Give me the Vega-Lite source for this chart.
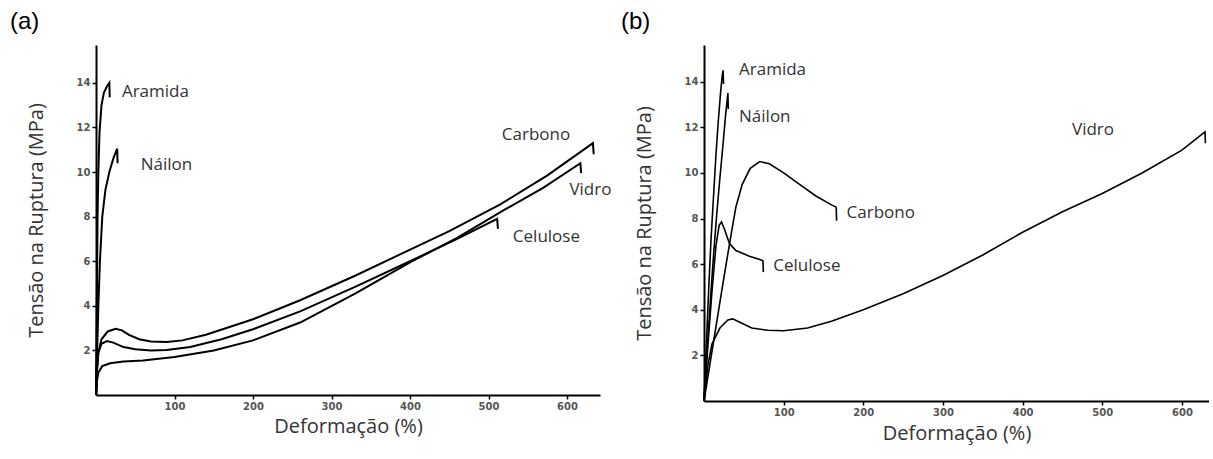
{
 "$schema": "https://vega.github.io/schema/vega-lite/v6.json",
 "padding": {"left": 10, "top": 10, "right": 0, "bottom": 8},
 "background": "white",
 "spacing": 9,
 "config": {
  "view": {"stroke": null},
  "axis": {"grid": false, "domainColor": "black", "domainWidth": 2, "tickColor": "black", "tickWidth": 1.5, "tickSize": 4,
   "labelFont": "DejaVu Sans", "labelFontWeight": "bold", "labelFontSize": 10, "labelColor": "#555",
   "titleFont": "Open Sans", "titleFontSize": 20, "titleFontWeight": "normal", "titleColor": "#333"},
  "title": {"font": "Liberation Sans", "fontSize": 24, "fontWeight": "normal", "color": "black", "anchor": "start", "frame": "group"},
  "text": {"font": "Open Sans", "fontSize": 17, "color": "#333", "align": "left", "baseline": "middle"}
 },
 "datasets": {
  "a": [
   {"curve": "Aramida", "x": 0, "y": 0}, {"curve": "Aramida", "x": 0.5, "y": 2}, {"curve": "Aramida", "x": 1, "y": 4}, {"curve": "Aramida", "x": 1.5, "y": 6}, {"curve": "Aramida", "x": 2, "y": 8}, {"curve": "Aramida", "x": 3, "y": 10}, {"curve": "Aramida", "x": 4.5, "y": 11.8}, {"curve": "Aramida", "x": 7, "y": 13}, {"curve": "Aramida", "x": 10, "y": 13.55}, {"curve": "Aramida", "x": 14, "y": 13.85}, {"curve": "Aramida", "x": 17, "y": 14.0}, {"curve": "Aramida", "x": 17.5, "y": 13.35},
   {"curve": "Náilon", "x": 0, "y": 0}, {"curve": "Náilon", "x": 1.5, "y": 2}, {"curve": "Náilon", "x": 3, "y": 4}, {"curve": "Náilon", "x": 5, "y": 6}, {"curve": "Náilon", "x": 8, "y": 8}, {"curve": "Náilon", "x": 12, "y": 9.2}, {"curve": "Náilon", "x": 17, "y": 10.0}, {"curve": "Náilon", "x": 22, "y": 10.6}, {"curve": "Náilon", "x": 27, "y": 11.05}, {"curve": "Náilon", "x": 27.5, "y": 10.4},
   {"curve": "Carbono", "x": 0, "y": 0}, {"curve": "Carbono", "x": 1, "y": 1}, {"curve": "Carbono", "x": 3, "y": 1.9}, {"curve": "Carbono", "x": 7, "y": 2.5}, {"curve": "Carbono", "x": 15, "y": 2.85}, {"curve": "Carbono", "x": 25, "y": 2.97}, {"curve": "Carbono", "x": 33, "y": 2.9}, {"curve": "Carbono", "x": 42, "y": 2.7}, {"curve": "Carbono", "x": 55, "y": 2.5}, {"curve": "Carbono", "x": 70, "y": 2.4}, {"curve": "Carbono", "x": 90, "y": 2.38}, {"curve": "Carbono", "x": 110, "y": 2.45}, {"curve": "Carbono", "x": 140, "y": 2.7}, {"curve": "Carbono", "x": 200, "y": 3.4}, {"curve": "Carbono", "x": 260, "y": 4.25}, {"curve": "Carbono", "x": 330, "y": 5.35}, {"curve": "Carbono", "x": 390, "y": 6.35}, {"curve": "Carbono", "x": 450, "y": 7.35}, {"curve": "Carbono", "x": 515, "y": 8.55}, {"curve": "Carbono", "x": 575, "y": 9.85}, {"curve": "Carbono", "x": 633, "y": 11.3}, {"curve": "Carbono", "x": 634, "y": 10.8},
   {"curve": "Celulose", "x": 0, "y": 0}, {"curve": "Celulose", "x": 1, "y": 1}, {"curve": "Celulose", "x": 3, "y": 1.9}, {"curve": "Celulose", "x": 7, "y": 2.3}, {"curve": "Celulose", "x": 14, "y": 2.42}, {"curve": "Celulose", "x": 22, "y": 2.35}, {"curve": "Celulose", "x": 35, "y": 2.15}, {"curve": "Celulose", "x": 50, "y": 2.05}, {"curve": "Celulose", "x": 70, "y": 2.0}, {"curve": "Celulose", "x": 90, "y": 2.02}, {"curve": "Celulose", "x": 120, "y": 2.15}, {"curve": "Celulose", "x": 160, "y": 2.5}, {"curve": "Celulose", "x": 200, "y": 2.95}, {"curve": "Celulose", "x": 260, "y": 3.75}, {"curve": "Celulose", "x": 330, "y": 4.85}, {"curve": "Celulose", "x": 400, "y": 6.0}, {"curve": "Celulose", "x": 460, "y": 7.0}, {"curve": "Celulose", "x": 511, "y": 7.9}, {"curve": "Celulose", "x": 512, "y": 7.45},
   {"curve": "Vidro", "x": 0, "y": 0}, {"curve": "Vidro", "x": 1, "y": 0.6}, {"curve": "Vidro", "x": 3, "y": 1.0}, {"curve": "Vidro", "x": 8, "y": 1.3}, {"curve": "Vidro", "x": 18, "y": 1.42}, {"curve": "Vidro", "x": 35, "y": 1.5}, {"curve": "Vidro", "x": 60, "y": 1.55}, {"curve": "Vidro", "x": 100, "y": 1.7}, {"curve": "Vidro", "x": 150, "y": 2.0}, {"curve": "Vidro", "x": 200, "y": 2.45}, {"curve": "Vidro", "x": 260, "y": 3.25}, {"curve": "Vidro", "x": 330, "y": 4.55}, {"curve": "Vidro", "x": 400, "y": 5.95}, {"curve": "Vidro", "x": 460, "y": 7.05}, {"curve": "Vidro", "x": 520, "y": 8.3}, {"curve": "Vidro", "x": 570, "y": 9.3}, {"curve": "Vidro", "x": 617, "y": 10.4}, {"curve": "Vidro", "x": 618, "y": 9.95}
  ],
  "la": [
   {"name": "Aramida", "x": 33, "y": 13.6}, {"name": "Náilon", "x": 57, "y": 10.3}, {"name": "Carbono", "x": 517, "y": 11.65}, {"name": "Vidro", "x": 603, "y": 9.2}, {"name": "Celulose", "x": 531, "y": 7.1}
  ],
  "b": [
   {"curve": "Aramida", "x": 0, "y": 0}, {"curve": "Aramida", "x": 3, "y": 2.5}, {"curve": "Aramida", "x": 6, "y": 5}, {"curve": "Aramida", "x": 9, "y": 7.2}, {"curve": "Aramida", "x": 12, "y": 9}, {"curve": "Aramida", "x": 15, "y": 10.8}, {"curve": "Aramida", "x": 18, "y": 12.3}, {"curve": "Aramida", "x": 21, "y": 13.6}, {"curve": "Aramida", "x": 23, "y": 14.3}, {"curve": "Aramida", "x": 24, "y": 14.5}, {"curve": "Aramida", "x": 24.5, "y": 13.9},
   {"curve": "Náilon", "x": 0, "y": 0}, {"curve": "Náilon", "x": 4, "y": 2.2}, {"curve": "Náilon", "x": 8, "y": 4.4}, {"curve": "Náilon", "x": 12, "y": 6.4}, {"curve": "Náilon", "x": 16, "y": 8.2}, {"curve": "Náilon", "x": 20, "y": 9.8}, {"curve": "Náilon", "x": 24, "y": 11.3}, {"curve": "Náilon", "x": 27, "y": 12.5}, {"curve": "Náilon", "x": 30, "y": 13.5}, {"curve": "Náilon", "x": 30.5, "y": 12.8},
   {"curve": "Carbono", "x": 0, "y": 0}, {"curve": "Carbono", "x": 12, "y": 2.6}, {"curve": "Carbono", "x": 24, "y": 5.2}, {"curve": "Carbono", "x": 34, "y": 7.3}, {"curve": "Carbono", "x": 40, "y": 8.5}, {"curve": "Carbono", "x": 48, "y": 9.5}, {"curve": "Carbono", "x": 58, "y": 10.2}, {"curve": "Carbono", "x": 70, "y": 10.5}, {"curve": "Carbono", "x": 82, "y": 10.4}, {"curve": "Carbono", "x": 100, "y": 10.0}, {"curve": "Carbono", "x": 120, "y": 9.5}, {"curve": "Carbono", "x": 140, "y": 9.0}, {"curve": "Carbono", "x": 160, "y": 8.6}, {"curve": "Carbono", "x": 166, "y": 8.5}, {"curve": "Carbono", "x": 166.5, "y": 7.9},
   {"curve": "Celulose", "x": 0, "y": 0}, {"curve": "Celulose", "x": 5, "y": 2.5}, {"curve": "Celulose", "x": 10, "y": 4.8}, {"curve": "Celulose", "x": 15, "y": 6.8}, {"curve": "Celulose", "x": 19, "y": 7.7}, {"curve": "Celulose", "x": 22, "y": 7.85}, {"curve": "Celulose", "x": 26, "y": 7.5}, {"curve": "Celulose", "x": 32, "y": 6.9}, {"curve": "Celulose", "x": 40, "y": 6.6}, {"curve": "Celulose", "x": 57, "y": 6.35}, {"curve": "Celulose", "x": 70, "y": 6.2}, {"curve": "Celulose", "x": 74, "y": 6.15}, {"curve": "Celulose", "x": 74.5, "y": 5.65},
   {"curve": "Vidro", "x": 0, "y": 0}, {"curve": "Vidro", "x": 5, "y": 1.6}, {"curve": "Vidro", "x": 10, "y": 2.5}, {"curve": "Vidro", "x": 20, "y": 3.2}, {"curve": "Vidro", "x": 30, "y": 3.55}, {"curve": "Vidro", "x": 36, "y": 3.6}, {"curve": "Vidro", "x": 45, "y": 3.45}, {"curve": "Vidro", "x": 60, "y": 3.2}, {"curve": "Vidro", "x": 80, "y": 3.1}, {"curve": "Vidro", "x": 100, "y": 3.08}, {"curve": "Vidro", "x": 130, "y": 3.2}, {"curve": "Vidro", "x": 160, "y": 3.5}, {"curve": "Vidro", "x": 200, "y": 4.0}, {"curve": "Vidro", "x": 250, "y": 4.7}, {"curve": "Vidro", "x": 300, "y": 5.5}, {"curve": "Vidro", "x": 350, "y": 6.4}, {"curve": "Vidro", "x": 400, "y": 7.4}, {"curve": "Vidro", "x": 450, "y": 8.3}, {"curve": "Vidro", "x": 500, "y": 9.1}, {"curve": "Vidro", "x": 550, "y": 10.0}, {"curve": "Vidro", "x": 600, "y": 11.0}, {"curve": "Vidro", "x": 629, "y": 11.8}, {"curve": "Vidro", "x": 629.5, "y": 11.3}
  ],
  "lb": [
   {"name": "Aramida", "x": 44, "y": 14.5}, {"name": "Náilon", "x": 44, "y": 12.45}, {"name": "Carbono", "x": 179, "y": 8.25}, {"name": "Celulose", "x": 87, "y": 5.9}, {"name": "Vidro", "x": 462, "y": 11.9}
  ]
 },
 "hconcat": [
  {
   "title": {"text": "(a)", "dx": -86, "offset": 11},
   "width": 504, "height": 350,
   "layer": [
    {"data": {"name": "a"}, "mark": {"type": "line", "color": "black", "strokeWidth": 2},
     "encoding": {
      "x": {"field": "x", "type": "quantitative", "scale": {"domain": [0, 642], "nice": false}, "axis": {"values": [100, 200, 300, 400, 500, 600], "title": "Deformação (%)", "titlePadding": 5}},
      "y": {"field": "y", "type": "quantitative", "scale": {"domain": [0, 15.7], "nice": false}, "axis": {"values": [2, 4, 6, 8, 10, 12, 14], "title": "Tensão na Ruptura (MPa)", "titlePadding": 30}},
      "detail": {"field": "curve"}}},
    {"data": {"name": "la"}, "mark": {"type": "text"},
     "encoding": {"x": {"field": "x", "type": "quantitative"}, "y": {"field": "y", "type": "quantitative"}, "text": {"field": "name"}}}
   ]
  },
  {
   "title": {"text": "(b)", "dx": -83, "offset": 11},
   "width": 505, "height": 356,
   "layer": [
    {"data": {"name": "b"}, "mark": {"type": "line", "color": "black", "strokeWidth": 1.6},
     "encoding": {
      "x": {"field": "x", "type": "quantitative", "scale": {"domain": [0, 634], "nice": false}, "axis": {"values": [100, 200, 300, 400, 500, 600], "title": "Deformação (%)", "titlePadding": 6}},
      "y": {"field": "y", "type": "quantitative", "scale": {"domain": [0, 15.61], "nice": false}, "axis": {"values": [2, 4, 6, 8, 10, 12, 14], "title": "Tensão na Ruptura (MPa)", "titlePadding": 30}},
      "detail": {"field": "curve"}}},
    {"data": {"name": "lb"}, "mark": {"type": "text"},
     "encoding": {"x": {"field": "x", "type": "quantitative"}, "y": {"field": "y", "type": "quantitative"}, "text": {"field": "name"}}}
   ]
  }
 ]
}
